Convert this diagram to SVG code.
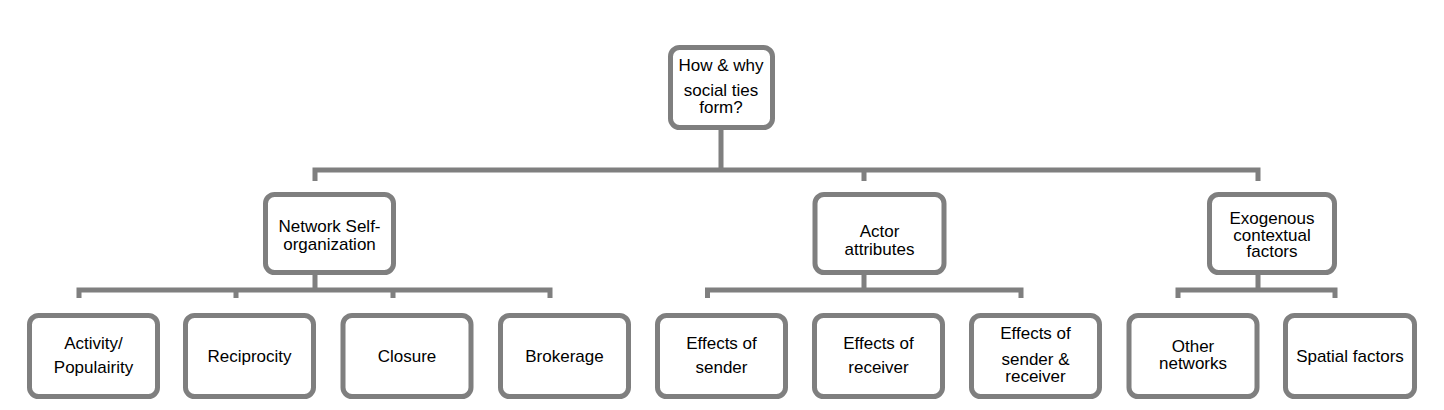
<svg xmlns="http://www.w3.org/2000/svg" width="1444" height="410" viewBox="0 0 1444 410">
<style>
.box{fill:#fff;stroke:#7f7f7f;stroke-width:5}
.ln{fill:none;stroke:#7f7f7f;stroke-width:5;stroke-linecap:butt}
text{font-family:"Liberation Sans",Arial,sans-serif;font-size:17px;fill:#000;text-anchor:middle}
</style>
<rect width="1444" height="410" fill="#fff"/>
<g id="connectors">
<path class="ln" d="M721 128V170M312.5 170H1260.5M315 170V181M864 170V181M1258 170V181"/>
<path class="ln" d="M315 273V290M76.5 290H552.5M79 290V298M236 290V298M393 290V298M550 290V298"/>
<path class="ln" d="M864 273V290M705 290H1023.5M707.5 290V298M1021 290V298"/>
<path class="ln" d="M1258 273V290M1175.5 290H1337.5M1178 290V298M1335 290V298"/>
</g>
<g id="root"><rect class="box" x="670.5" y="47.5" width="102" height="80" rx="9"/>
<text x="721" y="71">How &amp; why</text><text x="721" y="96">social ties</text><text x="721" y="113">form?</text></g>
<g id="n-self"><rect class="box" x="265.5" y="194.5" width="128" height="78" rx="9"/>
<text x="329.5" y="232">Network Self-</text><text x="329.5" y="250">organization</text></g>
<g id="n-actor"><rect class="box" x="815" y="194.5" width="129" height="78" rx="9"/>
<text x="879.5" y="237">Actor</text><text x="879.5" y="255">attributes</text></g>
<g id="n-exo"><rect class="box" x="1209.5" y="194.5" width="125" height="78" rx="9"/>
<text x="1272" y="224">Exogenous</text><text x="1272" y="240.5">contextual</text><text x="1272" y="257">factors</text></g>
<g id="b1"><rect class="box" x="29.5" y="315.5" width="128" height="81" rx="9"/>
<text x="93.5" y="349">Activity/</text><text x="93.5" y="373">Populairity</text></g>
<g id="b2"><rect class="box" x="185.5" y="315.5" width="128" height="81" rx="9"/>
<text x="249.5" y="362">Reciprocity</text></g>
<g id="b3"><rect class="box" x="343" y="315.5" width="128" height="81" rx="9"/>
<text x="407" y="362">Closure</text></g>
<g id="b4"><rect class="box" x="500.5" y="315.5" width="128" height="81" rx="9"/>
<text x="564.5" y="362">Brokerage</text></g>
<g id="b5"><rect class="box" x="657.5" y="315.5" width="128" height="81" rx="9"/>
<text x="721.5" y="349">Effects of</text><text x="721.5" y="373">sender</text></g>
<g id="b6"><rect class="box" x="814.5" y="315.5" width="128" height="81" rx="9"/>
<text x="878.5" y="349">Effects of</text><text x="878.5" y="373">receiver</text></g>
<g id="b7"><rect class="box" x="971.5" y="315.5" width="128" height="81" rx="9"/>
<text x="1035.5" y="339">Effects of</text><text x="1035.5" y="365">sender &amp;</text><text x="1035.5" y="382">receiver</text></g>
<g id="b8"><rect class="box" x="1129" y="315.5" width="128" height="81" rx="9"/>
<text x="1193" y="352">Other</text><text x="1193" y="369">networks</text></g>
<g id="b9"><rect class="box" x="1285.5" y="315.5" width="129" height="81" rx="9"/>
<text x="1350" y="362">Spatial factors</text></g>
</svg>
